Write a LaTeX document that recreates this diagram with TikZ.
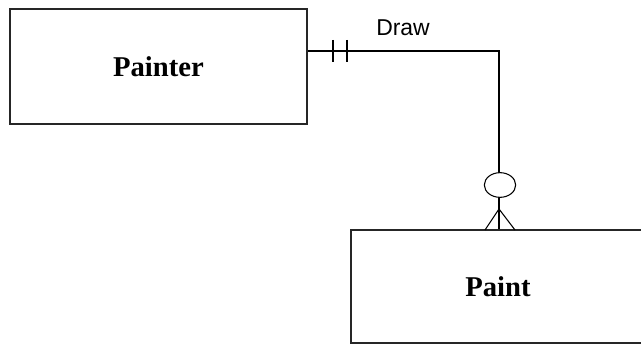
\documentclass[tikz,border=0pt]{standalone}
\usepackage{fontspec}
\setmainfont{Liberation Serif}
\newfontfamily\arialfont{Liberation Sans}
\usetikzlibrary{shapes.geometric}
\begin{document}
\begin{tikzpicture}[x=0.75pt,y=-0.75pt,
  entity/.style={draw=black!85,line width=1.1pt,rectangle,inner sep=0pt,
    font=\fontsize{21.5}{26}\selectfont\bfseries},
  conn/.style={draw=black,line width=0.8pt},
  lbl/.style={font=\arialfont\fontsize{17.2}{20}\selectfont,inner sep=0pt}]
\useasboundingbox (0,0) rectangle (641,345);
\node[entity,minimum width=223pt,minimum height=86.25pt] (painter) at (158.5,66.5) {Painter};
\node[entity,minimum width=220.5pt,minimum height=84.75pt] (paint) at (498,286.5) {Paint};
\coordinate (bend) at (499,51);
\coordinate (t1a) at (333,40);
\coordinate (t1b) at (333,62);
\coordinate (t2a) at (347,40);
\coordinate (t2b) at (347,62);
\coordinate (apex) at (499,209);
\coordinate (f1) at (485,230);
\coordinate (f2) at (515,230);
\draw[conn] (painter.east |- bend) -- (bend) -- (bend |- paint.north);
\draw[conn] (t1a) -- (t1b);
\draw[conn] (t2a) -- (t2b);
\node[conn,ellipse,fill=white,minimum width=23.5pt,minimum height=18.5pt,inner sep=0pt] (opt) at (500,185) {};
\draw[conn] (f1) -- (apex) -- (f2);
\node[lbl,anchor=base west] (draw) at (376,36) {Draw};
\end{tikzpicture}
\end{document}
